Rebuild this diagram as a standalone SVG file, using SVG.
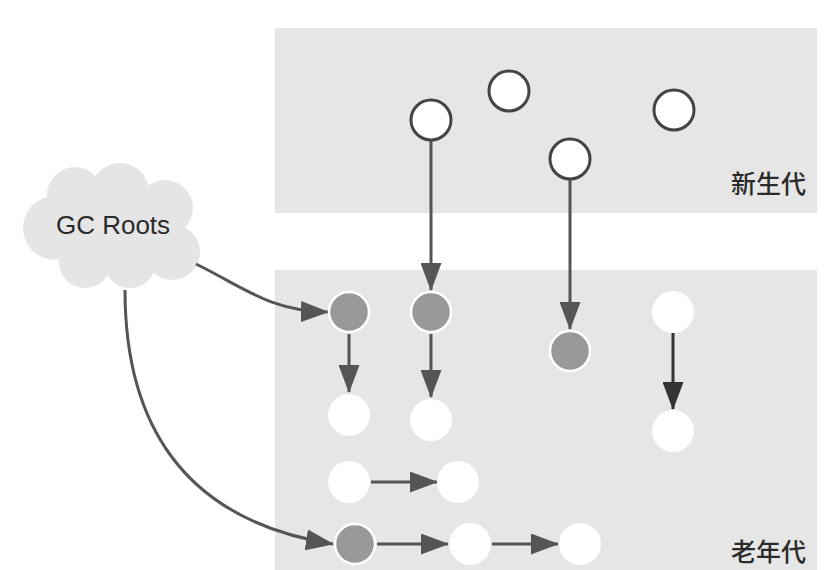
<svg xmlns="http://www.w3.org/2000/svg" width="833" height="570" viewBox="0 0 833 570">
<style>
.panel{fill:#e6e6e6}
.yc{fill:#fff;stroke:#444;stroke-width:3}
.gc{fill:#999;stroke:#fff;stroke-width:2.5}
.wc{fill:#fff}
.ln{fill:none;stroke:#555;stroke-width:3}
.lnd{fill:none;stroke:#333;stroke-width:3}
.lbl{font-family:"Noto Sans CJK SC","Liberation Sans",sans-serif;font-size:25px;font-weight:500;fill:#2a2a2a}
.cl{fill:#e5e5e5}
</style>
<defs>
<marker id="ah" markerUnits="userSpaceOnUse" markerWidth="28" markerHeight="21" refX="27" refY="10.5" orient="auto" viewBox="0 0 28 21">
<path d="M0,0 L28,10.5 L0,21 z" fill="#555"/>
</marker>
<marker id="ahd" markerUnits="userSpaceOnUse" markerWidth="28" markerHeight="21" refX="27" refY="10.5" orient="auto" viewBox="0 0 28 21">
<path d="M0,0 L28,10.5 L0,21 z" fill="#333"/>
</marker>
</defs>
<rect width="833" height="570" fill="#fff"/>
<g id="young-gen">
<rect class="panel" x="275" y="28" width="542" height="185"/>
<text class="lbl" x="806" y="193" text-anchor="end">新生代</text>
</g>
<g id="old-gen">
<rect class="panel" x="275" y="270" width="542" height="300"/>
<text class="lbl" x="806" y="561" text-anchor="end">老年代</text>
</g>
<g id="gc-roots">
<g class="cl">
<circle cx="120" cy="192" r="29"/>
<circle cx="75" cy="195" r="28"/>
<circle cx="165" cy="208" r="28"/>
<circle cx="55" cy="228" r="32"/>
<circle cx="172" cy="252" r="28"/>
<circle cx="85" cy="262" r="26"/>
<circle cx="130" cy="262" r="26"/>
<ellipse cx="112" cy="228" rx="72" ry="42"/>
</g>
<text x="113" y="234" text-anchor="middle" font-family="Liberation Sans, Arial, sans-serif" font-size="26" fill="#2a2a2a">GC Roots</text>
</g>
<g id="connectors">
<path class="ln" d="M196,264 C245,288 270,311 328,312" marker-end="url(#ah)"/>
<path class="ln" d="M125,290 C125,420 180,520 333,544" marker-end="url(#ah)"/>
<line class="ln" x1="431" y1="141" x2="431" y2="290" marker-end="url(#ah)"/>
<line class="ln" x1="570" y1="180" x2="570" y2="329" marker-end="url(#ah)"/>
<line class="ln" x1="349" y1="334" x2="349" y2="392" marker-end="url(#ah)"/>
<line class="ln" x1="431" y1="334" x2="431" y2="397" marker-end="url(#ah)"/>
<line class="lnd" x1="673" y1="333" x2="673" y2="409" marker-end="url(#ahd)"/>
<line class="ln" x1="371" y1="482" x2="437" y2="482" marker-end="url(#ah)"/>
<line class="ln" x1="377" y1="544" x2="448" y2="544" marker-end="url(#ah)"/>
<line class="ln" x1="492" y1="544" x2="558" y2="544" marker-end="url(#ah)"/>
</g>
<g id="y1"><circle class="yc" cx="431" cy="120" r="20"/></g>
<g id="y2"><circle class="yc" cx="509" cy="91" r="20"/></g>
<g id="y3"><circle class="yc" cx="570" cy="159" r="20"/></g>
<g id="y4"><circle class="yc" cx="674" cy="110" r="20"/></g>
<g id="o1"><circle class="gc" cx="349" cy="312" r="20"/></g>
<g id="o2"><circle class="gc" cx="431" cy="312" r="20"/></g>
<g id="o3"><circle class="gc" cx="570" cy="351" r="20"/></g>
<g id="o4"><circle class="wc" cx="673" cy="312" r="21"/></g>
<g id="o5"><circle class="wc" cx="349" cy="415" r="21"/></g>
<g id="o6"><circle class="wc" cx="431" cy="420" r="21"/></g>
<g id="o7"><circle class="wc" cx="673" cy="431" r="21"/></g>
<g id="o8"><circle class="wc" cx="349" cy="482" r="21"/></g>
<g id="o9"><circle class="wc" cx="458" cy="482" r="21"/></g>
<g id="o10"><circle class="gc" cx="355" cy="544" r="20"/></g>
<g id="o11"><circle class="wc" cx="470" cy="544" r="21"/></g>
<g id="o12"><circle class="wc" cx="580" cy="544" r="21"/></g>
</svg>
